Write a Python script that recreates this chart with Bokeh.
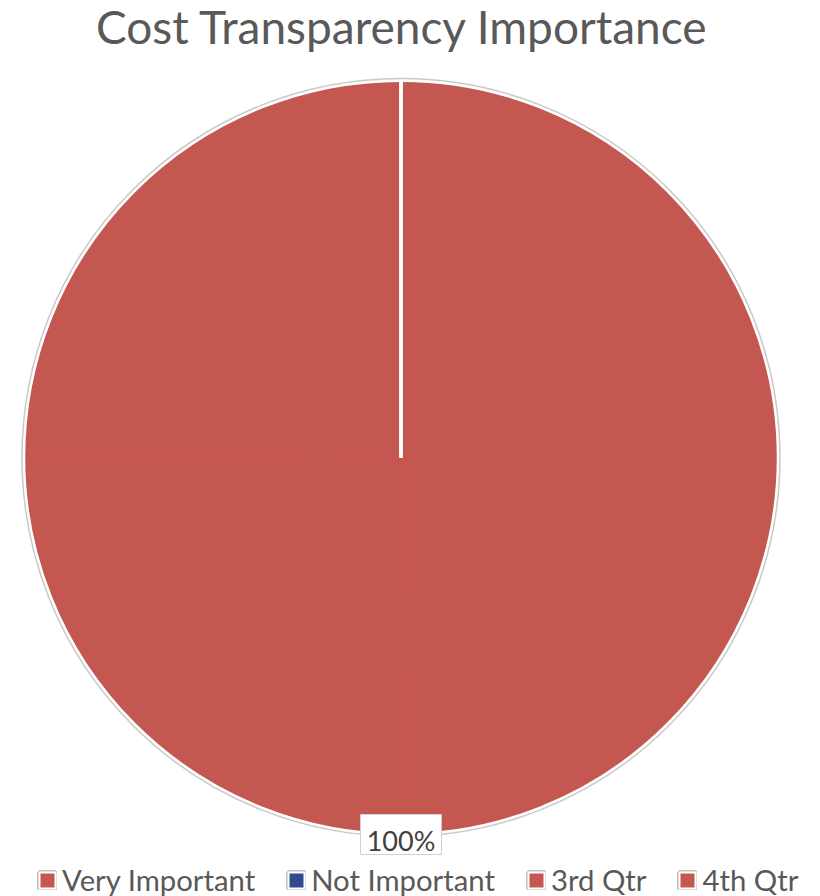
import numpy as np
from bokeh.plotting import figure
from bokeh.models import Range1d, Legend, LegendItem, ColumnDataSource
from bokeh.embed import file_html
from bokeh.resources import INLINE

# ---- data ----
title_text = "Cost Transparency Importance"
categories = ["Very Important", "Not Important", "3rd Qtr", "4th Qtr"]
values = [100, 0, 0, 0]
colors = ["#C4574F", "#2F4A8F", "#C4574F", "#C4574F"]

# ---- layout constants ----
W, H = 820, 896
cx, cy, R = 400.5, 439.0, 377.0
FONT = "Lato"

p = figure(width=W, height=H, x_range=Range1d(0, W), y_range=Range1d(0, H),
           output_backend="svg", toolbar_location=None, min_border=0)
p.axis.visible = False
p.grid.visible = False
p.outline_line_color = None
p.background_fill_color = "white"
p.border_fill_color = "white"

vals = np.array(values, dtype=float)
fracs = vals / vals.sum()
ends_cum = np.cumsum(fracs)
starts_cum = ends_cum - fracs
start_angles = np.pi / 2 - 2 * np.pi * starts_cum
end_angles = np.pi / 2 - 2 * np.pi * ends_cum

# slices drawn as sub-wedges of at most a quarter turn (SVG full-circle arcs misbehave)
ws, we, wc = [], [], []
for s, e, f, c in zip(start_angles, end_angles, fracs, colors):
    if f <= 0:
        continue
    n = int(np.ceil(f * 4))
    edges = np.linspace(s, e, n + 1)
    for a0, a1 in zip(edges[:-1], edges[1:]):
        ws.append(a0)
        we.append(a1)
        wc.append(c)
src = ColumnDataSource(dict(start=ws, end=we, color=wc))
p.wedge(x=cx, y=cy, radius=R, start_angle="start", end_angle="end",
        direction="clock", fill_color="color", line_color="color",
        line_width=1, source=src)

# slice outline: white rim, grey outer ring, white radial boundaries
p.circle(x=[cx], y=[cy], radius=R, fill_color=None,
         line_color="white", line_width=2.5)
p.circle(x=[cx], y=[cy], radius=R + 2.0, fill_color=None,
         line_color="#C9C9C9", line_width=1.5)
bsrc = ColumnDataSource(dict(x1=cx + R * np.cos(start_angles),
                             y1=cy + R * np.sin(start_angles)))
p.segment(x0=cx, y0=cy, x1="x1", y1="y1", line_color="white",
          line_width=3, source=bsrc)

# data labels
mask = fracs > 0
mid = (start_angles + end_angles) / 2
lx = cx + R * np.cos(mid[mask])
ly = cy + R * np.sin(mid[mask])
lab = ["%d%%" % round(f * 100) for f in fracs[mask]]
lsrc = ColumnDataSource(dict(x=lx, y=ly, ty=ly - 6, text=lab))
p.rect(x="x", y="y", width=81, height=40, fill_color="white",
       line_color="#D0D0D0", line_width=1, source=lsrc)
p.text(x="x", y="ty", text="text", text_align="center",
       text_baseline="alphabetic", text_font={"value": FONT},
       text_font_size="27px", text_color="#404040", source=lsrc)

# title
p.text(x=[cx + 1.5], y=[870], text=[title_text], text_align="center",
       text_baseline="alphabetic", text_font={"value": FONT},
       text_font_size="46px", text_color="#595959")

# legend
items = []
for cat, col in zip(categories, colors):
    r1 = p.rect(x=[np.nan], y=[np.nan], width=1, height=1, fill_color="white",
                line_color="#BFBFBF", line_width=5)
    r2 = p.rect(x=[np.nan], y=[np.nan], width=1, height=1, fill_color=col,
                line_color="white", line_width=2)
    items.append(LegendItem(label=cat, renderers=[r1, r2]))

legend = Legend(items=items, orientation="horizontal", location=(37, -1),
                glyph_width=20, glyph_height=20, label_text_font=FONT,
                label_text_font_size="29.3px", label_text_color="#595959",
                label_standoff=5, spacing=31, padding=0, margin=0,
                border_line_color=None, background_fill_alpha=0)
p.add_layout(legend)

open("out.html", "w").write(file_html(p, INLINE))
